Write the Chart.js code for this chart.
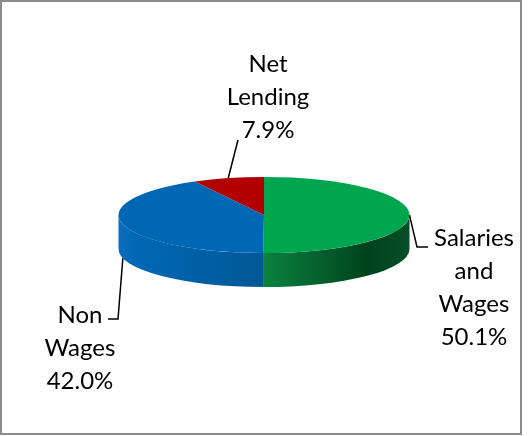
<!DOCTYPE html>
<html>
<head>
<meta charset="utf-8">
<script src="https://cdn.jsdelivr.net/npm/chart.js@4.4.0/dist/chart.umd.min.js"></script>
<style>
    html, body { margin: 0; padding: 0; background: #ffffff; }
    #wrap { width: 531px; height: 436px; position: relative; }
</style>
</head>
<body>
<div id="wrap"><canvas id="pieChart" width="531" height="436"></canvas></div>
<script>
// Dados do gráfico
const categories = ['Salaries and Wages', 'Non Wages', 'Net Lending'];
const shares = [50.1, 42.0, 7.9];
const labelLines = [['Salaries', 'and', 'Wages'], ['Non', 'Wages'], ['Net', 'Lending']];

// Estilos
const topColors = ['#00A54F', '#0067B4', '#B20000'];
const sideStops = [
    [[0.5, '#0B823D'], [0.86, '#00421E'], [1, '#064F28']],
    [[0, '#0A6EBC'], [0.06, '#0068B6'], [0.5, '#005893']],
    [[0, '#8A0000'], [1, '#6A0000']]
];
const tilt = 0.262;   // achatamento da elipse
const depth = 34;     // espessura da "torta"
const fontLabel = '24px Lato, "Open Sans", sans-serif';
const lineGap = 33;

// Posição dos rótulos e das linhas guia
const labelLayout = [
    { cx: 474, y0: 246, path: [[417, 247], [428, 247]] },
    { cx: 80, y0: 323, path: [[118, 319], [108, 319]] },
    { cx: 268, y0: 72, path: [[238, 140]] }
];

function arcProps(arc) {
    return arc.getProps(['x', 'y', 'startAngle', 'endAngle', 'outerRadius'], true);
}

const pie3d = {
    id: 'pie3d',
    beforeDatasetsDraw(chart) {
        const ctx = chart.ctx;
        const arcs = chart.getDatasetMeta(0).data;
        let cy = 0;

        // Paredes laterais (só a parte da frente aparece)
        arcs.forEach((arc, i) => {
            const p = arcProps(arc);
            const r = p.outerRadius;
            cy = p.y;
            for (let k = -1; k <= 1; k++) {
                const a = Math.max(p.startAngle + 2 * Math.PI * k, 0);
                const b = Math.min(p.endAngle + 2 * Math.PI * k, Math.PI);
                if (a >= b) continue;
                const grad = ctx.createLinearGradient(p.x - r, 0, p.x + r, 0);
                sideStops[i].forEach(s => grad.addColorStop(s[0], s[1]));
                ctx.save();
                ctx.beginPath();
                ctx.ellipse(p.x, p.y, r, r * tilt, 0, a, b);
                ctx.lineTo(p.x + r * Math.cos(b), p.y + r * tilt * Math.sin(b) + depth);
                ctx.ellipse(p.x, p.y + depth, r, r * tilt, 0, b, a, true);
                ctx.closePath();
                ctx.fillStyle = grad;
                ctx.fill();
                ctx.restore();
            }
        });

        // Face de cima: achatar verticalmente em torno do centro
        ctx.save();
        ctx.translate(0, cy);
        ctx.scale(1, tilt);
        ctx.translate(0, -cy);
    },
    afterDatasetsDraw(chart) {
        chart.ctx.restore();
    },
    afterDraw(chart) {
        const ctx = chart.ctx;
        const arcs = chart.getDatasetMeta(0).data;

        // Moldura
        ctx.save();
        ctx.strokeStyle = '#8a8a8a';
        ctx.lineWidth = 2;
        ctx.strokeRect(1, 1, 520, 433);
        ctx.restore();

        arcs.forEach((arc, i) => {
            const p = arcProps(arc);
            const mid = (p.startAngle + p.endAngle) / 2;
            const r = p.outerRadius;
            let ax = p.x + r * Math.cos(mid);
            let ay = p.y + r * tilt * Math.sin(mid);
            if (Math.sin(mid) > 0.1) ay += depth;

            // Linha guia
            ctx.save();
            ctx.strokeStyle = '#000000';
            ctx.lineWidth = 1.5;
            ctx.beginPath();
            ctx.moveTo(ax, ay);
            labelLayout[i].path.forEach(pt => ctx.lineTo(pt[0], pt[1]));
            ctx.stroke();
            ctx.restore();

            // Texto
            const lines = labelLines[i].concat([shares[i].toFixed(1) + '%']);
            ctx.save();
            ctx.font = fontLabel;
            ctx.fillStyle = '#000000';
            ctx.textAlign = 'center';
            ctx.textBaseline = 'alphabetic';
            lines.forEach((t, j) => {
                ctx.fillText(t, labelLayout[i].cx, labelLayout[i].y0 + j * lineGap);
            });
            ctx.restore();
        });
    }
};

new Chart(document.getElementById('pieChart').getContext('2d'), {
    type: 'pie',
    data: {
        labels: categories,
        datasets: [{
            data: shares,
            backgroundColor: topColors,
            borderWidth: 0,
            clip: false
        }]
    },
    options: {
        responsive: false,
        animation: false,
        events: [],
        layout: {
            padding: { left: 118.5, right: 121.5, top: 69.5, bottom: 75.5 }
        },
        plugins: {
            legend: { display: false },
            tooltip: { enabled: false }
        }
    },
    plugins: [pie3d]
});
</script>
</body>
</html>
